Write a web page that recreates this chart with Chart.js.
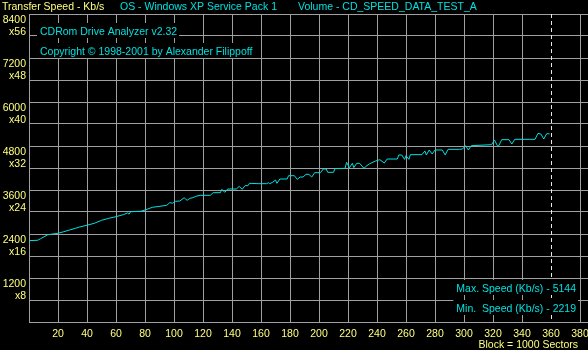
<!DOCTYPE html>
<html>
<head>
<meta charset="utf-8">
<script src="https://cdn.jsdelivr.net/npm/chart.js@4/dist/chart.umd.min.js"></script>
<style>
html,body{margin:0;padding:0;background:#000;}
canvas{display:block;}
</style>
</head>
<body>
<canvas id="c" width="588" height="350"></canvas>
<script>
// ---- data (block number in 1000-sector blocks, transfer speed in Kb/s) ----
const blocks = [0,6,8,11,13,20,24,28,32,35,40,45,50,55,60,65,68,69,70,77,80,85,95,97,99,101,104,107,109,111,113,115,
  118,125,127,132,133,135,137,143,145,147,149,151,152,158,164,165,166,168,170,171,173,178,179,183,185,187,189,191,193,195,
  197,201,203,205,206,210,211,218,219,221,223,224,226,228,231,233,235,239,242,245,247,254,255,257,259,260,262,263,271,
  273,274,276,278,280,285,287,289,297,299,301,303,305,319,321,323,324,326,331,333,335,349,351,353,355,357,359];
const speeds = [2219,2228,2272,2337,2381,2419,2463,2509,2555,2591,2640,2691,2773,2828,2873,2927,2973,2940,3008,3020,3054,3127,3182,3254,3240,3291,3300,3390,3318,3373,3390,3427,
  3455,3455,3527,3527,3618,3536,3627,3627,3700,3618,3718,3718,3782,3773,3773,3800,3773,3810,3873,3782,3900,3900,3990,3990,3891,3954,3954,4027,4027,3954,
  4073,4073,4173,4173,4082,4082,4182,4191,4355,4209,4327,4209,4327,4327,4191,4264,4318,4391,4427,4336,4445,4445,4555,4555,4436,4536,4436,4564,4564,
  4664,4555,4691,4582,4691,4691,4555,4709,4709,4718,4809,4691,4809,4836,4964,4809,4809,4973,4973,4855,4982,4982,5144,5127,4991,5136,5130];
const discEnd = 360;
const yTicks = [1200, 2400, 3600, 4800, 6000, 7200, 8400];
const yMult  = ['x8', 'x16', 'x24', 'x32', 'x40', 'x48', 'x56'];
const xTicks = [20,40,60,80,100,120,140,160,180,200,220,240,260,280,300,320,340,360,380];
const headerLeft = 'Transfer Speed - Kb/s';
const headerOS = 'OS - Windows XP Service Pack 1';
const headerVol = 'Volume - CD_SPEED_DATA_TEST_A';
const appTitle = 'CDRom Drive Analyzer v2.32';
const copyright = 'Copyright \u00A9 1998-2001 by Alexander Filippoff';
const footer = 'Block = 1000 Sectors';

const YELLOW = '#ffff80';
const CYAN = '#00e0e0';
const GRID = '#a0a0a0';
const FONT = '10.5px "Liberation Sans", Arial, sans-serif';

const overlay = {
  id: 'overlay',
  beforeDraw(chart) {
    const ctx = chart.ctx;
    ctx.save();
    ctx.fillStyle = '#000';
    ctx.fillRect(0, 0, chart.width, chart.height);
    ctx.restore();
  },
  afterDraw(chart) {
    const ctx = chart.ctx, xs = chart.scales.x, ys = chart.scales.y, ca = chart.chartArea;
    ctx.save();
    // dashed end-of-disc marker
    const dx = Math.round(xs.getPixelForValue(discEnd)) + 0.5;
    ctx.strokeStyle = '#e8e8e8';
    ctx.lineWidth = 1;
    ctx.setLineDash([4, 3]);
    ctx.beginPath();
    ctx.moveTo(dx, ca.top);
    ctx.lineTo(dx, ca.bottom);
    ctx.stroke();
    ctx.setLineDash([]);

    ctx.font = FONT;
    ctx.textBaseline = 'alphabetic';
    // y labels
    ctx.fillStyle = YELLOW;
    ctx.textAlign = 'right';
    yTicks.forEach((v, i) => {
      const y = Math.round(ys.getPixelForValue(v));
      ctx.fillText(String(v), 26, y + 9);
      ctx.fillText(yMult[i], 26, y + 21);
    });
    // x labels
    ctx.textAlign = 'center';
    xTicks.forEach(v => {
      ctx.fillText(String(v), xs.getPixelForValue(v), 337);
    });
    ctx.textAlign = 'right';
    ctx.fillText(footer, 578, 348);
    // header
    ctx.textAlign = 'left';
    ctx.fillText(headerLeft, 2, 10);
    ctx.fillStyle = CYAN;
    ctx.fillText(headerOS, 120, 10);
    ctx.fillText(headerVol, 298, 10);

    // boxed texts inside plot
    function boxed(text, x, base, align) {
      const w = ctx.measureText(text).width;
      const left = align === 'right' ? x - w : x;
      ctx.fillStyle = '#000';
      ctx.fillRect(left - 3, base - 12, w + 5, 15);
      ctx.fillStyle = CYAN;
      ctx.textAlign = align;
      ctx.fillText(text, x, base);
    }
    boxed(appTitle, 40, 35, 'left');
    boxed(copyright, 40, 55, 'left');
    const maxV = Math.max(...speeds), minV = Math.min(...speeds);
    boxed('Max. Speed (Kb/s) - ' + maxV, 576, 292, 'right');
    boxed('Min.  Speed (Kb/s) - ' + minV, 576, 312, 'right');
    ctx.restore();
  }
};

new Chart(document.getElementById('c'), {
  type: 'line',
  data: {
    datasets: [{
      data: blocks.map((b, i) => ({ x: b, y: speeds[i] })),
      borderColor: CYAN,
      borderWidth: 1,
      pointRadius: 0,
      tension: 0,
      fill: false
    }]
  },
  options: {
    responsive: false,
    animation: false,
    events: [],
    layout: { padding: { left: 29, top: 14, right: 0, bottom: 28 } },
    plugins: { legend: { display: false }, tooltip: { enabled: false } },
    scales: {
      x: {
        type: 'linear',
        min: 0,
        max: 385.5,
        afterBuildTicks: s => { s.ticks = [0, ...xTicks].map(v => ({ value: v })); },
        ticks: { display: false },
        grid: {
          color: c => (c.tick && c.tick.value === discEnd) ? 'rgba(0,0,0,0)' : GRID,
          lineWidth: 1,
          drawTicks: false
        },
        border: { display: true, color: GRID, width: 1 }
      },
      y: {
        min: 0,
        max: 8400,
        afterBuildTicks: s => {
          const t = [];
          for (let v = 0; v <= 8400; v += 600) t.push({ value: v });
          s.ticks = t;
        },
        ticks: { display: false },
        grid: { color: GRID, lineWidth: 1, drawTicks: false },
        border: { display: true, color: GRID, width: 1 }
      }
    }
  },
  plugins: [overlay]
});
</script>
</body>
</html>
